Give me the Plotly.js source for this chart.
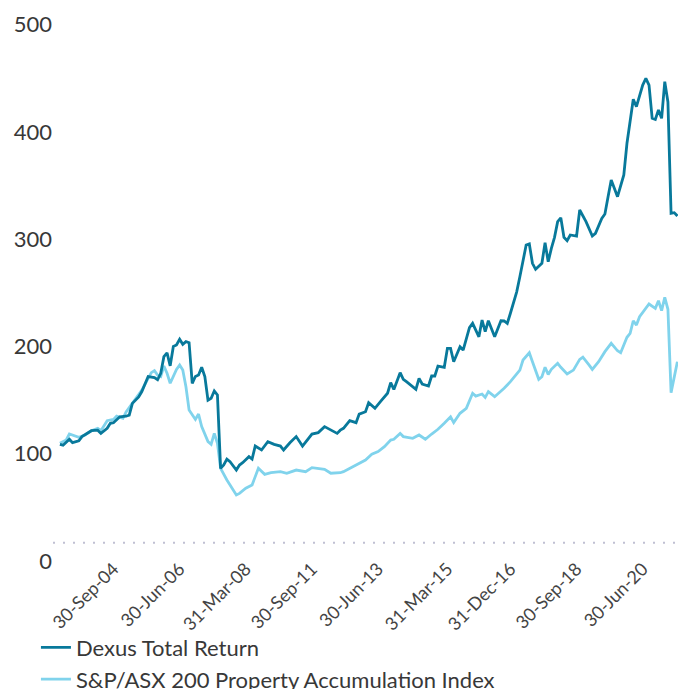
<!DOCTYPE html>
<html>
<head>
<meta charset="utf-8">
<script src="https://cdn.plot.ly/plotly-3.0.1.min.js"></script>
<style>html,body{margin:0;padding:0;background:#fff;}#chart{width:678px;height:689px;}</style>
</head>
<body>
<div id="chart"></div>
<script>
// Category-axis period index (one step per category on the reference axis)
const dexusPeriod = [0,1,3,4,6,7,10,12,13,15,16,17,19,21,22,23,25,26,28,30,31,32,33,34,35,36,37,38,39,40,41,42,43,44,45,46,47,48,49,50,51,52,53,54,56,57,58,60,61,62,64,66,68,70,71,73,75,76,77,80,82,84,88,89,90,92,94,95,97,98,100,102,104,105,106,108,109,110,113,114,115,117,118,119,120,122,123,124,125,127,128,130,131,133,134,135,136,138,140,141,142,143,145,146,148,149,150,151,153,154,155,156,157,158,159,160,161,162,164,165,167,169,170,172,173,174,175,177,179,180,181,182,183,184,185,186,187,188,189,190,191,192,193,194,195,196];
const dexusValue = [108.8,108,113.5,110.3,112,116,121.5,122,119,123.7,128.4,129,134.5,135,136,147,153,158,172,171,169,175,190.5,194,182,200,201.4,206.7,202,204.5,203.5,165.7,172,173.4,180.6,172,150,151.7,158.5,154.8,86.4,89.5,95,92.6,84.8,89.5,91.7,97.3,95,107.2,103.5,111.3,108.8,107.2,103.5,110.3,116,112,107.2,118.4,119.7,125.3,119,122,123.7,130.8,129,137,139.2,147.6,142.4,149.5,156.4,166.3,160,175.6,169.4,167.2,160,170.3,165,163.2,172.5,172.5,181.8,180.6,198.3,198.3,185.8,199.8,196.7,217.5,221.6,209,224.7,213.8,224,209,224,223.8,221.6,231,251,265,294.6,295.6,277.6,272,277.6,296.8,279,291.5,301.8,316.4,320,301.8,298.7,304,303,327.3,316.4,303,305.5,319.5,323.5,339.7,355.2,339.7,360,389.5,408,430.5,423.6,434.5,443.8,450,443.8,412.8,411.8,420.5,412.8,447,428,324.2,324.8,321.7];

const indexPeriod = [0,2,3,5,6,8,10,12,13,15,17,18,20,21,23,26,29,30,31,32,33,34,35,37,38,39,40,41,43,44,45,47,48,49,50,51,53,56,57,59,61,63,65,67,70,72,75,78,80,84,86,89,90,92,95,97,99,101,103,105,106,108,109,112,114,116,118,120,122,124,125,127,129,131,132,134,135,136,138,140,141,143,146,147,149,150,152,153,154,155,156,158,159,161,163,165,166,168,169,171,173,175,177,178,180,181,182,183,184,187,189,190,191,192,193,194,196];
const indexValue = [109.7,112.8,118.4,116.6,115.3,117.5,121.5,123.7,121.5,130.8,132,135,133,139,147,159.4,175.6,177.5,173.4,172,181.8,175,165.7,178.7,182.7,178,162.5,140.8,132,137,125.3,111.3,108.8,119,109.7,86.4,75.5,61.5,63,67.8,70.9,86.4,80.8,82.3,83.3,81.8,84.8,83.3,87,85.5,81.8,82.3,83.3,86.4,91,94.2,99.5,102,106.6,112.8,113.5,119,116,114.4,117.5,113.5,118.4,122.8,128.4,134.5,129,137.7,142.4,156.4,153.8,155.7,152.6,157.9,153.2,157.9,161,167.2,178,187.4,194.2,185.8,169.4,171.8,180.6,174,178.7,184.3,180.6,174.4,178,188,190,182.7,178.7,185.8,195.2,203,196,194.2,208.6,212.3,224,220,227.8,239.6,235.6,242.7,233.4,245.9,234.7,157,185.8];

const tickPeriods = [17,38,59,80,101,123,143,164,185];
const tickLabels = ['30-Sep-04','30-Jun-06','31-Mar-08','30-Sep-11','30-Jun-13','31-Mar-15','31-Dec-16','30-Sep-18','30-Jun-20'];

const seriesNames = ['Dexus Total Return','S&P/ASX 200 Property Accumulation Index'];

const FONT = 'Lato, "Open Sans", sans-serif';

const traces = [
  {x: indexPeriod, y: indexValue, name: seriesNames[1], type: 'scatter', mode: 'lines',
   line: {color: '#80d3ec', width: 2.8}, legendrank: 2},
  {x: dexusPeriod, y: dexusValue, name: seriesNames[0], type: 'scatter', mode: 'lines',
   line: {color: '#08799b', width: 2.8}, legendrank: 1}
];

const layout = {
  width: 678, height: 689,
  margin: {l: 53, r: 0, t: 15, b: 128, autoexpand: false},
  paper_bgcolor: '#fff', plot_bgcolor: '#fff',
  font: {family: FONT, color: '#333'},
  showlegend: true,
  legend: {
    xref: 'container', yref: 'container', x: 0.053, y: 0.0905,
    xanchor: 'left', yanchor: 'top', orientation: 'v',
    font: {family: FONT, size: 22, color: '#383838'},
    traceorder: 'normal', itemwidth: 30, tracegroupgap: 0, bgcolor: 'rgba(0,0,0,0)'
  },
  xaxis: {
    range: [-2.2, 196.2], showgrid: false, zeroline: false, showline: false,
    tickmode: 'array', tickvals: tickPeriods, ticktext: tickLabels,
    tickangle: -45, ticks: '', ticklabelstandoff: -7,
    tickfont: {family: FONT, size: 18, color: '#444'},
    automargin: false, fixedrange: true
  },
  yaxis: {
    range: [0, 509.1], showgrid: false, zeroline: false, showline: false,
    tickmode: 'linear', tick0: 0, dtick: 100, ticks: '',
    tickfont: {family: FONT, size: 22, color: '#383838'},
    automargin: false, fixedrange: true
  },
  shapes: [{
    type: 'line', xref: 'paper', x0: 0, x1: 1, yref: 'y', y0: 17, y1: 17,
    line: {color: '#c0c0d2', width: 2, dash: '2px,8px'}, layer: 'below'
  }]
};

Plotly.newPlot('chart', traces, layout, {displayModeBar: false, staticPlot: true});
</script>
</body>
</html>
